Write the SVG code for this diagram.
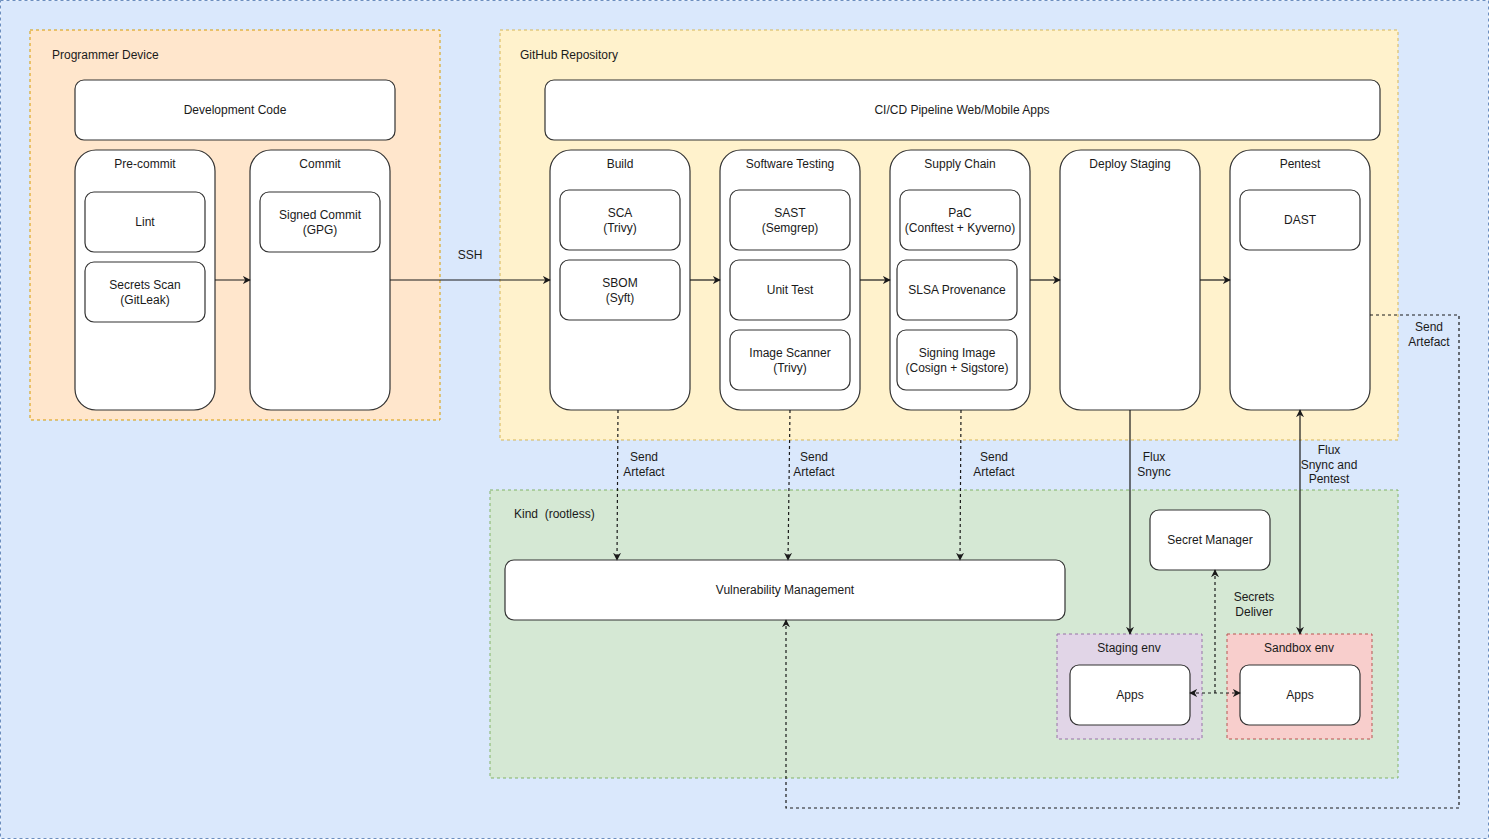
<svg xmlns="http://www.w3.org/2000/svg" width="1490" height="840" viewBox="0 0 1490 840">
<style>
text{font-family:"Liberation Sans",Arial,sans-serif;font-size:12px;fill:#1a1a1a}
.c{text-anchor:middle}
.n{fill:#fff;stroke:#333;stroke-width:1.2}
.grp{stroke-width:1;stroke-dasharray:3 3}
.e{fill:none;stroke:#1a1a1a;stroke-width:1.2}
.d{stroke-dasharray:3 3}
</style>
<defs>
<marker id="a" viewBox="0 0 10 10" refX="9" refY="5" markerWidth="8" markerHeight="8" markerUnits="userSpaceOnUse" orient="auto-start-reverse">
<path d="M0,0 L10,5 L0,10 L3,5 z" fill="#1a1a1a"/>
</marker>
</defs>
<rect x="0.5" y="0.5" width="1488" height="838" fill="#dae8fc" stroke="#6c8ebf" class="grp"/>
<g id="programmer-device">
<rect x="30" y="30" width="410" height="390" fill="#ffe6cc" stroke="#d79b00" class="grp"/>
<text x="52" y="59">Programmer Device</text>
</g>
<g id="github-repo">
<rect x="500" y="30" width="898" height="410" fill="#fff2cc" stroke="#d6b656" class="grp"/>
<text x="520" y="59">GitHub Repository</text>
</g>
<g id="kind">
<rect x="490" y="490" width="908" height="288" fill="#d5e8d4" stroke="#82b366" class="grp"/>
<text x="514" y="518">Kind&#160; (rootless)</text>
</g>
<g id="staging-env">
<rect x="1057" y="634" width="145" height="105" fill="#e1d5e7" stroke="#9673a6" class="grp"/>
<text x="1129" y="652" class="c">Staging env</text>
</g>
<g id="sandbox-env">
<rect x="1227" y="634" width="145" height="105" fill="#f8cecc" stroke="#b85450" class="grp"/>
<text x="1299" y="652" class="c">Sandbox env</text>
</g>
<g id="dev-code"><rect x="75" y="80" width="320" height="60" rx="9" class="n"/><text x="235" y="114" class="c">Development Code</text></g>
<g id="pre-commit"><rect x="75" y="150" width="140" height="260" rx="21" class="n"/><text x="145" y="168" class="c">Pre-commit</text></g>
<g id="lint"><rect x="85" y="192" width="120" height="60" rx="9" class="n"/><text x="145" y="226" class="c">Lint</text></g>
<g id="secrets-scan"><rect x="85" y="262" width="120" height="60" rx="9" class="n"/><text x="145" y="289" class="c">Secrets Scan</text><text x="145" y="304" class="c">(GitLeak)</text></g>
<g id="commit"><rect x="250" y="150" width="140" height="260" rx="21" class="n"/><text x="320" y="168" class="c">Commit</text></g>
<g id="signed-commit"><rect x="260" y="192" width="120" height="60" rx="9" class="n"/><text x="320" y="219" class="c">Signed Commit</text><text x="320" y="234" class="c">(GPG)</text></g>
<g id="cicd"><rect x="545" y="80" width="835" height="60" rx="9" class="n"/><text x="962" y="114" class="c">CI/CD Pipeline Web/Mobile Apps</text></g>
<g id="build"><rect x="550" y="150" width="140" height="260" rx="21" class="n"/><text x="620" y="168" class="c">Build</text></g>
<g id="sca"><rect x="560" y="190" width="120" height="60" rx="9" class="n"/><text x="620" y="217" class="c">SCA</text><text x="620" y="232" class="c">(Trivy)</text></g>
<g id="sbom"><rect x="560" y="260" width="120" height="60" rx="9" class="n"/><text x="620" y="287" class="c">SBOM</text><text x="620" y="302" class="c">(Syft)</text></g>
<g id="software-testing"><rect x="720" y="150" width="140" height="260" rx="21" class="n"/><text x="790" y="168" class="c">Software Testing</text></g>
<g id="sast"><rect x="730" y="190" width="120" height="60" rx="9" class="n"/><text x="790" y="217" class="c">SAST</text><text x="790" y="232" class="c">(Semgrep)</text></g>
<g id="unit-test"><rect x="730" y="260" width="120" height="60" rx="9" class="n"/><text x="790" y="294" class="c">Unit Test</text></g>
<g id="image-scanner"><rect x="730" y="330" width="120" height="60" rx="9" class="n"/><text x="790" y="357" class="c">Image Scanner</text><text x="790" y="372" class="c">(Trivy)</text></g>
<g id="supply-chain"><rect x="890" y="150" width="140" height="260" rx="21" class="n"/><text x="960" y="168" class="c">Supply Chain</text></g>
<g id="pac"><rect x="900" y="190" width="120" height="60" rx="9" class="n"/><text x="960" y="217" class="c">PaC</text><text x="960" y="232" class="c">(Conftest + Kyverno)</text></g>
<g id="slsa"><rect x="897" y="260" width="120" height="60" rx="9" class="n"/><text x="957" y="294" class="c">SLSA Provenance</text></g>
<g id="signing"><rect x="897" y="330" width="120" height="60" rx="9" class="n"/><text x="957" y="357" class="c">Signing Image</text><text x="957" y="372" class="c">(Cosign + Sigstore)</text></g>
<g id="deploy-staging"><rect x="1060" y="150" width="140" height="260" rx="21" class="n"/><text x="1130" y="168" class="c">Deploy Staging</text></g>
<g id="pentest"><rect x="1230" y="150" width="140" height="260" rx="21" class="n"/><text x="1300" y="168" class="c">Pentest</text></g>
<g id="dast"><rect x="1240" y="190" width="120" height="60" rx="9" class="n"/><text x="1300" y="224" class="c">DAST</text></g>
<g id="vuln-mgmt"><rect x="505" y="560" width="560" height="60" rx="9" class="n"/><text x="785" y="594" class="c">Vulnerability Management</text></g>
<g id="secret-manager"><rect x="1150" y="510" width="120" height="60" rx="9" class="n"/><text x="1210" y="544" class="c">Secret Manager</text></g>
<g id="staging-apps"><rect x="1070" y="665" width="120" height="60" rx="9" class="n"/><text x="1130" y="699" class="c">Apps</text></g>
<g id="sandbox-apps"><rect x="1240" y="665" width="120" height="60" rx="9" class="n"/><text x="1300" y="699" class="c">Apps</text></g>
<g id="connectors">
<path d="M215,280 H250" class="e" marker-end="url(#a)"/>
<path d="M390,280 H550" class="e" marker-end="url(#a)"/>
<path d="M690,280 H720" class="e" marker-end="url(#a)"/>
<path d="M860,280 H890" class="e" marker-end="url(#a)"/>
<path d="M1030,280 H1060" class="e" marker-end="url(#a)"/>
<path d="M1200,280 H1230" class="e" marker-end="url(#a)"/>
<path d="M618,410 L617,560" class="e d" marker-end="url(#a)"/>
<path d="M790,410 L788,560" class="e d" marker-end="url(#a)"/>
<path d="M961,410 L960,560" class="e d" marker-end="url(#a)"/>
<path d="M1130,410 V634" class="e" marker-end="url(#a)"/>
<path d="M1300,410 V634" class="e" marker-start="url(#a)" marker-end="url(#a)"/>
<path d="M1215,693 V570" class="e d" marker-end="url(#a)"/>
<path d="M1190,693 H1240" class="e d" marker-start="url(#a)" marker-end="url(#a)"/>
<path d="M1370,315 H1459 V808 H786 V620" class="e d" marker-end="url(#a)"/>
<text x="470" y="259" class="c">SSH</text>
<text x="644" y="461" class="c">Send</text><text x="644" y="476" class="c">Artefact</text>
<text x="814" y="461" class="c">Send</text><text x="814" y="476" class="c">Artefact</text>
<text x="994" y="461" class="c">Send</text><text x="994" y="476" class="c">Artefact</text>
<text x="1154" y="461" class="c">Flux</text><text x="1154" y="476" class="c">Snync</text>
<text x="1329" y="454" class="c">Flux</text><text x="1329" y="469" class="c">Snync and</text><text x="1329" y="483" class="c">Pentest</text>
<text x="1254" y="601" class="c">Secrets</text><text x="1254" y="616" class="c">Deliver</text>
<text x="1429" y="331" class="c">Send</text><text x="1429" y="346" class="c">Artefact</text>
</g>
</svg>
